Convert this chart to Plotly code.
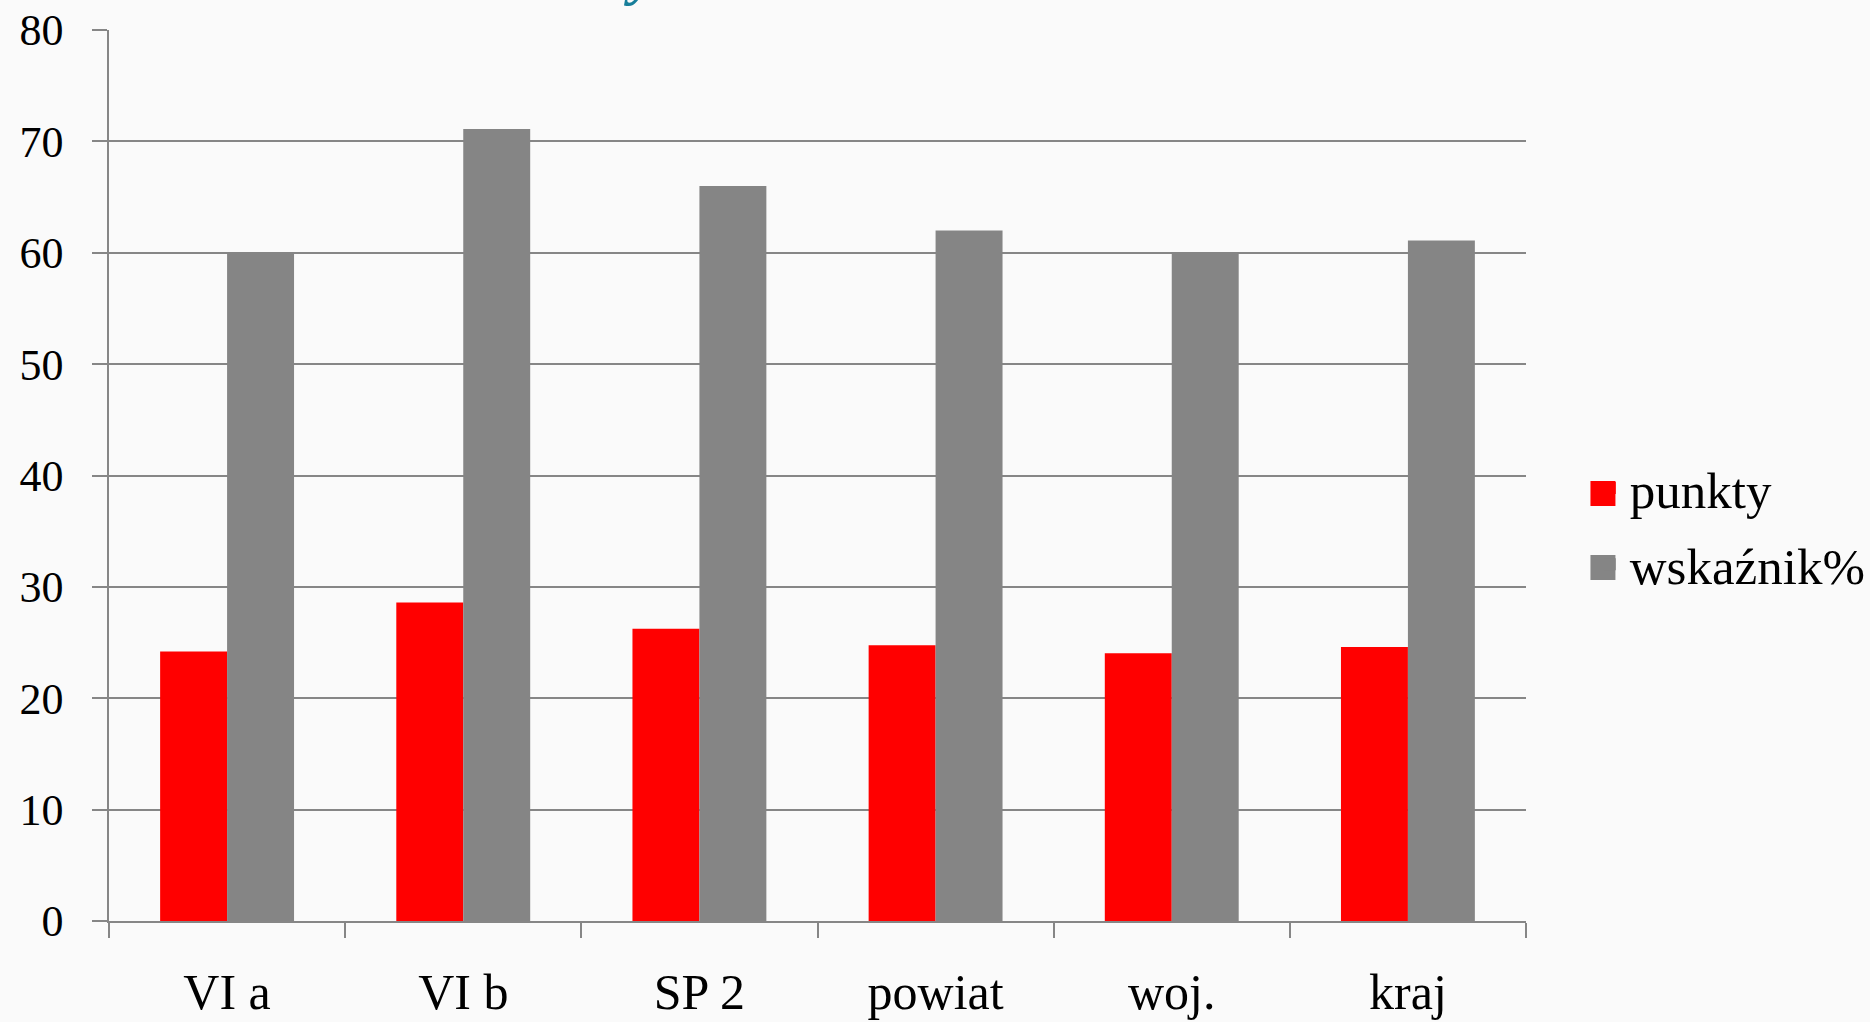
import plotly.graph_objects as go

categories = ["VI a", "VI b", "SP 2", "powiat", "woj.", "kraj"]
punkty = [24.2, 28.6, 26.25, 24.75, 24.05, 24.6]
wskaznik = [60, 71.1, 66, 62, 60, 61.1]
series_names = ["punkty", "wskaźnik%"]
series_colors = ["#ff0000", "#858585"]
y_ticks = [0, 10, 20, 30, 40, 50, 60, 70, 80]

W, H = 1870, 1022
L, R, T, B = 108.5, 1870 - 1526.5, 30, 1022 - 921
PW, PH = W - L - R, H - T - B

FONT = "Liberation Serif"

fig = go.Figure()
for vals, name, col, grp in zip([punkty, wskaznik], series_names, series_colors, ["a", "b"]):
    fig.add_trace(go.Bar(x=categories, y=vals, name=name,
                         marker=dict(color=col, line=dict(width=0)),
                         legendgroup=grp))

fig.update_layout(
    width=W, height=H,
    autosize=False,
    margin=dict(l=L, r=R, t=T, b=B, pad=0, autoexpand=False),
    paper_bgcolor="#fafafa",
    plot_bgcolor="#fafafa",
    barmode="group",
    bargap=0.433,
    bargroupgap=0,
    font=dict(family=FONT, color="#000000"),
    showlegend=True,
    legend=dict(
        x=1.045, xanchor="left", y=0.443, yanchor="middle",
        font=dict(family=FONT, size=51, color="#000000"),
        bgcolor="rgba(0,0,0,0)",
        tracegroupgap=7,
        itemclick=False,
    ),
    xaxis=dict(
        type="category",
        automargin=False,
        showgrid=False,
        showline=True, linecolor="#868686", linewidth=1.5,
        ticks="outside", ticklen=15, tickcolor="#868686", tickwidth=1.5,
        tickson="boundaries",
        tickfont=dict(family=FONT, size=50, color="#000000"),
        ticklabelstandoff=26,
        zeroline=False,
    ),
    yaxis=dict(
        range=[0, 80],
        automargin=False,
        tickvals=y_ticks,
        showgrid=True, gridcolor="#868686", gridwidth=1.5,
        showline=True, linecolor="#868686", linewidth=1.5,
        ticks="outside", ticklen=15, tickcolor="#868686", tickwidth=1.5,
        tickfont=dict(family=FONT, size=44, color="#000000"),
        ticklabelstandoff=20,
        zeroline=False,
    ),
)

# larger legend keys, as in the original slide
key_tops = [481, 555]
for col, top in zip(series_colors, key_tops):
    fig.add_shape(type="rect", xref="paper", yref="paper",
                  x0=(1591 - L) / PW, x1=(1616 - L) / PW,
                  y0=(H - B - top) / PH, y1=(H - B - top - 25) / PH,
                  fillcolor=col, line=dict(width=0), layer="above")

fig.add_annotation(
    text="<b><i>y</i></b>", xref="paper", yref="paper",
    x=(640 - L) / PW, y=1, xanchor="center", yanchor="bottom",
    yshift=22, showarrow=False,
    font=dict(family=FONT, size=60, color="#177e9a"),
)

fig.write_html("out.html", config={"displayModeBar": False},
               post_script="document.body.style.margin='0';document.body.style.overflow='hidden';")
